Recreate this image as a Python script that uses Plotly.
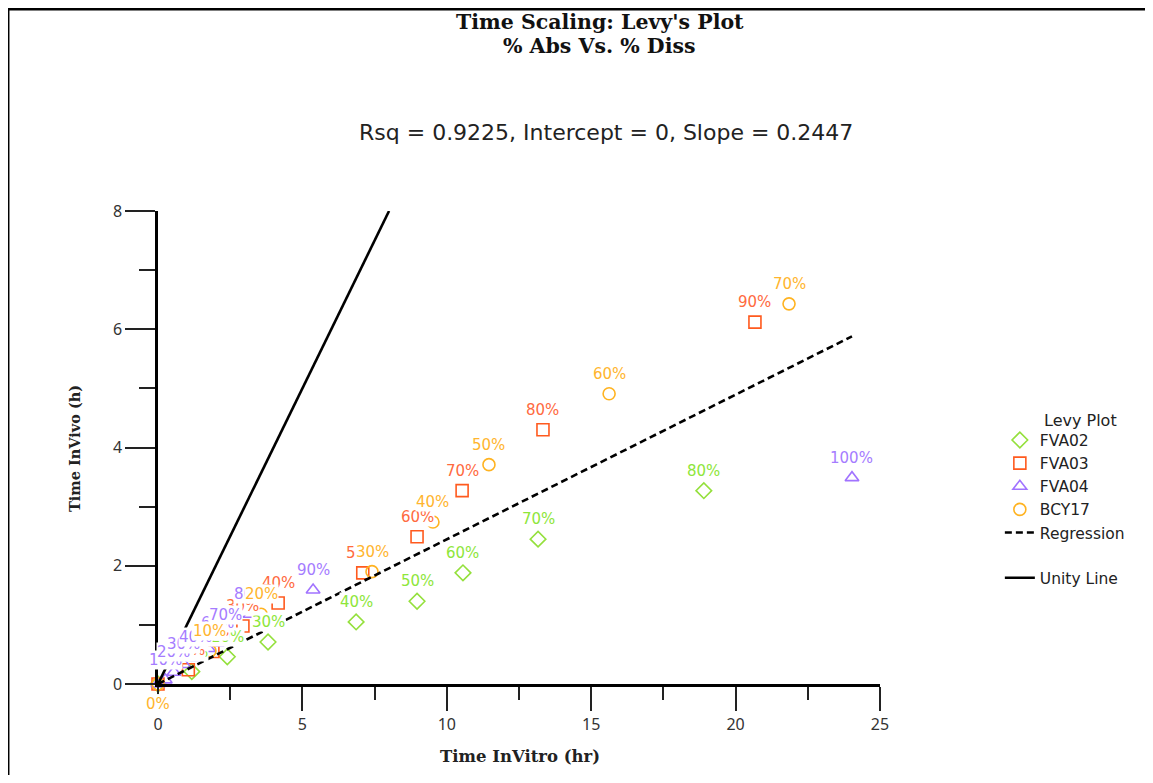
import plotly.graph_objects as go

# ---------------- data ----------------
fva02_pct = ["0%", "10%", "20%", "30%", "40%", "50%", "60%", "70%", "80%"]
fva02_x = [0, 1.17, 2.4, 3.81, 6.86, 8.97, 10.56, 13.16, 18.9]
fva02_y = [0, 0.21, 0.46, 0.71, 1.05, 1.40, 1.88, 2.45, 3.27]

fva03_pct = ["0%", "10%", "20%", "30%", "40%", "50%", "60%", "70%", "80%", "90%"]
fva03_x = [0, 1.05, 1.9, 2.94, 4.16, 7.09, 8.97, 10.53, 13.33, 20.67]
fva03_y = [0, 0.24, 0.55, 0.98, 1.37, 1.88, 2.49, 3.27, 4.30, 6.12]

fva04_pct = ["0%", "10%", "20%", "30%", "40%", "50%", "60%", "70%", "80%", "90%", "100%"]
fva04_x = [0, 0.25, 0.55, 0.9, 1.3, 1.75, 2.05, 2.35, 3.19, 5.37, 24.03]
fva04_y = [0, 0.07, 0.2, 0.33, 0.45, 0.6, 0.7, 0.83, 1.18, 1.59, 3.49]

bcy17_pct = ["0%", "10%", "20%", "30%", "40%", "50%", "60%", "70%"]
bcy17_x = [0, 1.8, 3.57, 7.41, 9.52, 11.46, 15.62, 21.85]
bcy17_y = [0, 0.56, 1.18, 1.90, 2.74, 3.71, 4.91, 6.43]

rsq = 0.9225
intercept = 0
slope = 0.2447
unity_x = [0, 8]

x_ticks = [0, 5, 10, 15, 20, 25]
y_ticks = [0, 2, 4, 6, 8]

# ---------------- styling ----------------
series = [
    ("FVA02", fva02_x, fva02_y, fva02_pct, "diamond-open", "#94e03c", "#8ee63a"),
    ("FVA03", fva03_x, fva03_y, fva03_pct, "square-open", "#ff5a1e", "#ff6a40"),
    ("FVA04", fva04_x, fva04_y, fva04_pct, "triangle-up-open", "#a173ff", "#a57cff"),
    ("BCY17", bcy17_x, bcy17_y, bcy17_pct, "circle-open", "#ffb321", "#ffb52e"),
]

SANS = "DejaVu Sans, Verdana, sans-serif"
TICKF = "Noto Sans, Open Sans, sans-serif"
SERIF = "DejaVu Serif, Liberation Serif, serif"

fig = go.Figure()

for name, xs, ys, pct, sym, col, tcol in series:
    fig.add_trace(go.Scatter(
        x=xs, y=ys, mode="markers", name=name,
        marker=dict(symbol=sym, size=12, color=col, line=dict(width=1.6, color=col)),
        cliponaxis=False, legendgroup="a",
    ))

all_x = fva02_x + fva03_x + fva04_x + bcy17_x
reg_x = [0, max(all_x)]
reg_y = [intercept + slope * v for v in reg_x]
fig.add_trace(go.Scatter(
    x=reg_x, y=reg_y, mode="lines", name="Regression",
    line=dict(color="black", width=2.6, dash="7px,4px"), legendgroup="a",
))
fig.add_trace(go.Scatter(
    x=unity_x, y=unity_x, mode="lines", name="Unity Line",
    line=dict(color="black", width=2.6), legendgroup="b",
))

annotations = []
for name, xs, ys, pct, sym, col, tcol in series:
    for xv, yv, t in zip(xs, ys, pct):
        annotations.append(dict(
            x=xv, y=yv, xref="x", yref="y", text=t, showarrow=False,
            yshift=(-20 if t == "0%" else 20), bgcolor="white", borderpad=0,
            font=dict(family=SANS, size=15, color=tcol),
        ))

# titles
annotations += [
    dict(x=0.612, y=1.399, xref="paper", yref="paper", yanchor="middle",
         text="<b>Time Scaling: Levy's Plot</b>", showarrow=False,
         font=dict(family=SERIF, size=20.5, color="#111")),
    dict(x=0.612, y=1.349, xref="paper", yref="paper", yanchor="middle",
         text="<b>% Abs Vs. % Diss</b>", showarrow=False,
         font=dict(family=SERIF, size=20.5, color="#111")),
    dict(x=0.62, y=1.165, xref="paper", yref="paper", yanchor="middle",
         text=f"Rsq = {rsq}, Intercept = {intercept}, Slope = {slope}", showarrow=False,
         font=dict(family=SANS, size=22, color="#222")),
    dict(x=0.501, y=-0.1543, xref="paper", yref="paper", yanchor="middle",
         text="<b>Time InVitro (hr)</b>", showarrow=False,
         font=dict(family=SERIF, size=16.5, color="#222")),
    dict(x=-0.115, y=0.499, xref="paper", yref="paper", xanchor="center", yanchor="middle",
         text="<b>Time InVivo (h)</b>", showarrow=False, textangle=-90,
         font=dict(family=SERIF, size=14.5, color="#222")),
    dict(x=1.2244, y=0.558, xref="paper", yref="paper", xanchor="left", yanchor="middle",
         text="Levy Plot", showarrow=False,
         font=dict(family=SANS, size=16, color="#222")),
]

fig.update_layout(
    width=1137, height=767,
    margin=dict(l=150, r=265, t=203, b=91),
    paper_bgcolor="white", plot_bgcolor="white",
    showlegend=True,
    legend=dict(x=1.166, y=0.551, xanchor="left", yanchor="top",
                font=dict(family=SANS, size=15.5, color="#222"),
                traceorder="grouped", tracegroupgap=22, itemwidth=30,
                bgcolor="rgba(0,0,0,0)"),
    annotations=annotations,
    shapes=[
        dict(type="line", xref="paper", yref="paper", x0=-0.2078, x1=1.38, y0=1.427, y1=1.427,
             line=dict(color="black", width=3)),
        dict(type="line", xref="paper", yref="paper", x0=-0.2078, x1=-0.2078, y0=1.427, y1=-0.23,
             line=dict(color="black", width=3)),
    ],
)

fig.update_xaxes(
    range=[0, 25], showgrid=False, zeroline=False,
    showline=True, linecolor="black", linewidth=2.5,
    tickmode="array", tickvals=x_ticks, ticks="outside", ticklen=24, tickwidth=2, tickcolor="#222",
    minor=dict(tickmode="linear", tick0=2.5, dtick=5, ticks="outside", ticklen=13, tickwidth=2, tickcolor="#222"),
    tickfont=dict(family=TICKF, size=16, color="#333"),
)
fig.update_yaxes(
    range=[0, 8], showgrid=False, zeroline=False,
    showline=True, linecolor="black", linewidth=2.5,
    tickmode="array", tickvals=y_ticks, ticks="outside", ticklen=30, tickwidth=2, tickcolor="#222",
    minor=dict(tickmode="linear", tick0=1, dtick=2, ticks="outside", ticklen=16, tickwidth=2, tickcolor="#222"),
    tickfont=dict(family=TICKF, size=16, color="#333"),
)

fig.write_html("out.html")
